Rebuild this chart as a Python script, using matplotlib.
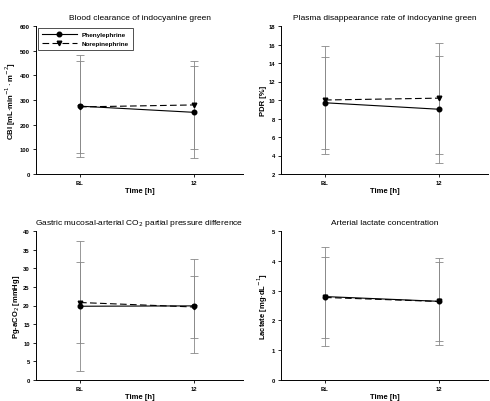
import numpy as np
import matplotlib
matplotlib.use("Agg")
import matplotlib.pyplot as plt

plt.rcParams['font.family'] = ['Liberation Sans', 'DejaVu Sans']

time_labels = ["BL", "12"]

# CBI
cbi_phe = [275, 250]
cbi_phe_sd = [208, 187]
cbi_nor = [272, 280]
cbi_nor_sd = [186, 180]

# PDR
pdr_phe = [9.7, 9.0]
pdr_phe_sd = [5.0, 5.8]
pdr_nor = [10.0, 10.2]
pdr_nor_sd = [5.8, 6.0]

# Pg-aCO2
pco2_phe = [19.8, 19.9]
pco2_phe_sd = [17.4, 12.65]
pco2_nor = [20.8, 19.6]
pco2_nor_sd = [10.8, 8.3]

# lactate
lac_phe = [2.80, 2.64]
lac_phe_sd = [1.65, 1.46]
lac_nor = [2.77, 2.635]
lac_nor_sd = [1.35, 1.31]

W, H = 490, 402
fig = plt.figure(figsize=(W / 100, H / 100), dpi=100)

def px_axes(l, t, r, b):
    return fig.add_axes([l / W, 1 - b / H, (r - l) / W, (b - t) / H])

panels = [
    dict(box=(36, 27, 243, 175), phe=cbi_phe, phe_sd=cbi_phe_sd, nor=cbi_nor, nor_sd=cbi_nor_sd,
         ylim=(0, 600), yticks=np.arange(0, 601, 100),
         ylabel=r"CBI [mL$\cdot$min$^{-1}\cdot$m$^{-2}$]",
         title="Blood clearance of indocyanine green", legend=True),
    dict(box=(281, 27, 488, 175), phe=pdr_phe, phe_sd=pdr_phe_sd, nor=pdr_nor, nor_sd=pdr_nor_sd,
         ylim=(2, 18), yticks=np.arange(2, 19, 2),
         ylabel="PDR [%]",
         title="Plasma disappearance rate of indocyanine green", legend=False),
    dict(box=(36, 232, 243, 381), phe=pco2_phe, phe_sd=pco2_phe_sd, nor=pco2_nor, nor_sd=pco2_nor_sd,
         ylim=(0, 40), yticks=np.arange(0, 41, 5),
         ylabel=r"Pg-aCO$_2$ [mmHg]",
         title=r"Gastric mucosal-arterial CO$_2$ partial pressure difference", legend=False),
    dict(box=(281, 232, 488, 381), phe=lac_phe, phe_sd=lac_phe_sd, nor=lac_nor, nor_sd=lac_nor_sd,
         ylim=(0, 5), yticks=np.arange(0, 6, 1),
         ylabel=r"Lactate [mg$\cdot$dL$^{-1}$]",
         title="Arterial lactate concentration", legend=False),
]

x = np.arange(len(time_labels))
bar_col = "#888888"

for p in panels:
    ax = px_axes(*p["box"])
    ax.errorbar(x, p["phe"], yerr=p["phe_sd"], fmt="none", ecolor=bar_col,
                elinewidth=0.6, capsize=3, capthick=0.6, zorder=1)
    ax.errorbar(x, p["nor"], yerr=p["nor_sd"], fmt="none", ecolor=bar_col,
                elinewidth=0.6, capsize=3, capthick=0.6, zorder=1)
    ax.plot(x, p["phe"], "-", color="black", marker="o", ms=3.3, lw=0.8,
            label="Phenylephrine", zorder=3)
    ax.plot(x, p["nor"], "--", color="black", marker="v", ms=3.3, lw=0.8,
            dashes=(6, 3), label="Norepinephrine", zorder=2)
    ax.set_xlim(-0.386, 1.43)
    ax.set_ylim(*p["ylim"])
    ax.set_yticks(p["yticks"])
    ax.set_xticks(x)
    ax.set_xticklabels(time_labels)
    for s in ["top", "right"]:
        ax.spines[s].set_visible(False)
    ax.spines["left"].set_linewidth(0.7)
    ax.spines["bottom"].set_linewidth(0.7)
    ax.tick_params(direction="out", length=2, width=0.6, labelsize=4.2, pad=2.5)
    for lbl in ax.get_xticklabels() + ax.get_yticklabels():
        lbl.set_fontweight("bold")
    ax.set_xlabel("Time [h]", fontsize=5.5, fontweight="bold", labelpad=1)
    ax.set_ylabel(p["ylabel"], fontsize=5.5, fontweight="bold", labelpad=1)
    ax.set_title(p["title"], fontsize=6.0, pad=5)
    if p["legend"]:
        leg = ax.legend(loc="upper left", frameon=True, fancybox=False,
                        edgecolor="black", borderaxespad=0.3, handlelength=5.5,
                        borderpad=0.6, prop={"size": 4.6, "weight": "bold"})
        leg.get_frame().set_linewidth(0.6)

fig.savefig("out.png", dpi=100)
